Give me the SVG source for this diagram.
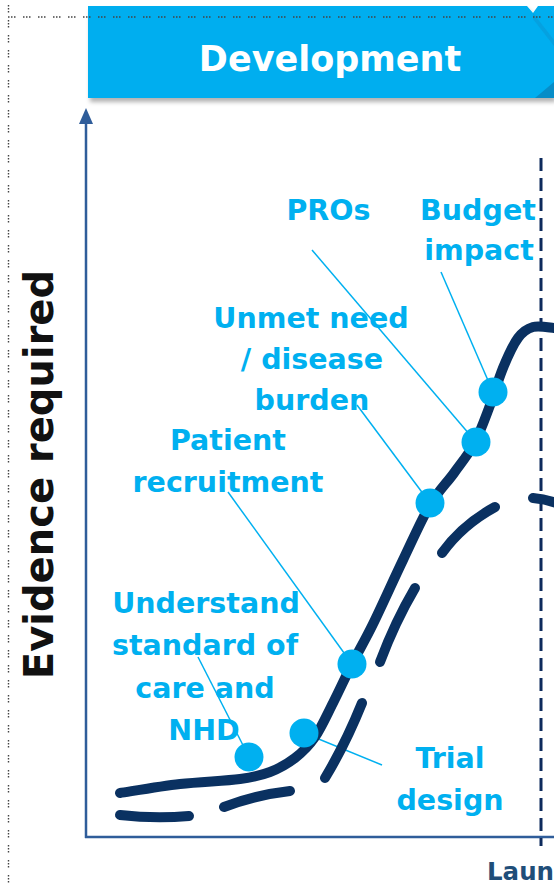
<svg xmlns="http://www.w3.org/2000/svg" width="554" height="886" viewBox="0 0 554 886">
  <defs>
    <filter id="shadow" x="-5%" y="-10%" width="115%" height="130%">
      <feDropShadow dx="2" dy="4" stdDeviation="2" flood-color="#000" flood-opacity="0.3"/>
    </filter>
    <style>
      .lbl { font-family: "DejaVu Sans", Verdana, sans-serif; font-weight: bold; font-size: 28.5px; fill: #00B0F0; text-anchor: middle; }
      .dot { fill: #00B0F0; }
      .leader { stroke: #00B0F0; stroke-width: 1.5; fill: none; }
      .curve { stroke: #0a3161; stroke-width: 10; fill: none; stroke-linecap: round; stroke-linejoin: round; }
      .axis { stroke: #2f5d9a; stroke-width: 2.5; fill: none; }
      .dotted { stroke: #444; stroke-width: 1.4; fill: none; stroke-dasharray: 1.5 1.5 1.5 1.5 1.5 7.5; }
    </style>
  </defs>

  <rect x="0" y="0" width="554" height="886" fill="#ffffff"/>

  <!-- Phase banner -->
  <g id="banner">
    <polygon filter="url(#shadow)" points="88,6 527,6 533,13 538,6 554,6 554,98 88,98" fill="#00AEEF"/>
    <polygon points="533,13 554,40 554,46 533,19" fill="#0a98d4" opacity="0.55"/>
    <polygon points="535,98 554,82 554,98" fill="#0a7fb6" opacity="0.7"/>
    <text x="330" y="71" font-family="DejaVu Sans, Verdana, sans-serif" font-weight="bold" font-size="35" fill="#ffffff" text-anchor="middle">Development</text>
  </g>

  <!-- frame dotted lines -->
  <g id="frame">
    <line class="dotted" x1="8.5" y1="5" x2="8.5" y2="886"/>
    <line class="dotted" x1="8" y1="17" x2="554" y2="17"/>
  </g>

  <!-- Axes -->
  <g id="axes">
    <line class="axis" x1="86" y1="838" x2="86" y2="120"/>
    <polygon points="86,108 79,124 93,124" fill="#2f5d9a"/>
    <line class="axis" x1="85" y1="837" x2="554" y2="837"/>
    <line x1="541" y1="158" x2="541" y2="846" stroke="#0d2a5c" stroke-width="3" stroke-dasharray="13 7"/>
    <text transform="translate(53,474.5) rotate(-90)" font-family="DejaVu Sans, Verdana, sans-serif" font-weight="bold" font-size="40" fill="#111111" text-anchor="middle">Evidence required</text>
    <text x="487" y="880" font-family="DejaVu Sans, Verdana, sans-serif" font-weight="bold" font-size="24.5" fill="#1f4e79">Laun</text>
  </g>

  <!-- Connectors: leader lines and evidence curves -->
  <g id="connectors">
    <line class="leader" x1="441" y1="272" x2="493" y2="392"/>
    <line class="leader" x1="312" y1="250" x2="476" y2="442"/>
    <line class="leader" x1="357" y1="405" x2="430" y2="503"/>
    <line class="leader" x1="228" y1="492" x2="352" y2="664"/>
    <line class="leader" x1="198" y1="657" x2="249" y2="757"/>
    <line class="leader" x1="304" y1="733" x2="382" y2="765"/>

    <path id="solid-curve" class="curve" d="M120,793 C130,791.5 160,786.3 180,784 C200,781.7 225,781 240,779 C255,777 260.8,775.5 270,772 C279.2,768.5 287.5,763.8 295,758 C302.5,752.2 308.7,746.2 315,737 C321.3,727.8 326.8,715.2 333,703 C339.2,690.8 345.3,677.2 352,664 C358.7,650.8 364.5,641.3 373,624 C381.5,606.7 393.5,579.8 403,560 C412.5,540.2 421.5,519.5 430,505 C438.5,490.5 446.7,483.2 454,473 C461.3,462.8 468.2,454.8 474,444 C479.8,433.2 484.2,420.7 489,408 C493.8,395.3 498.2,379.7 503,368 C507.8,356.3 513,344.8 518,338 C523,331.2 527,328.7 533,327 C539,325.3 550.5,327.8 554,328"/>

    <g id="dashed-curve">
      <path class="curve" d="M120,815 Q155,819 189,816"/>
      <path class="curve" d="M224,807 Q255,795 290,791"/>
      <path class="curve" d="M325,778 Q345,745 362,703"/>
      <path class="curve" d="M380,662 Q395,622 415,588"/>
      <path class="curve" d="M442,553 Q462,525 495,507"/>
      <path class="curve" d="M533,498 Q545,499 556,503"/>
    </g>
  </g>

  <!-- Evidence nodes -->
  <g id="budget-impact">
    <circle class="dot" cx="493" cy="392" r="14.5"/>
    <text class="lbl" x="478" y="220">Budget</text>
    <text class="lbl" x="479" y="260">impact</text>
  </g>
  <g id="pros">
    <circle class="dot" cx="476" cy="442" r="14.5"/>
    <text class="lbl" x="328.5" y="220">PROs</text>
  </g>
  <g id="unmet-need">
    <circle class="dot" cx="430" cy="503" r="14.5"/>
    <text class="lbl" x="311" y="328">Unmet need</text>
    <text class="lbl" x="312" y="369">/ disease</text>
    <text class="lbl" x="312" y="410">burden</text>
  </g>
  <g id="patient-recruitment">
    <circle class="dot" cx="352" cy="664" r="14.5"/>
    <text class="lbl" x="228" y="450">Patient</text>
    <text class="lbl" x="228" y="492">recruitment</text>
  </g>
  <g id="standard-of-care">
    <circle class="dot" cx="249" cy="757" r="14.5"/>
    <text class="lbl" x="206" y="613">Understand</text>
    <text class="lbl" x="205" y="655">standard of</text>
    <text class="lbl" x="205" y="698">care and</text>
    <text class="lbl" x="204" y="740">NHD</text>
  </g>
  <g id="trial-design">
    <circle class="dot" cx="304" cy="733" r="14.5"/>
    <text class="lbl" x="450" y="768">Trial</text>
    <text class="lbl" x="450" y="810">design</text>
  </g>
</svg>
